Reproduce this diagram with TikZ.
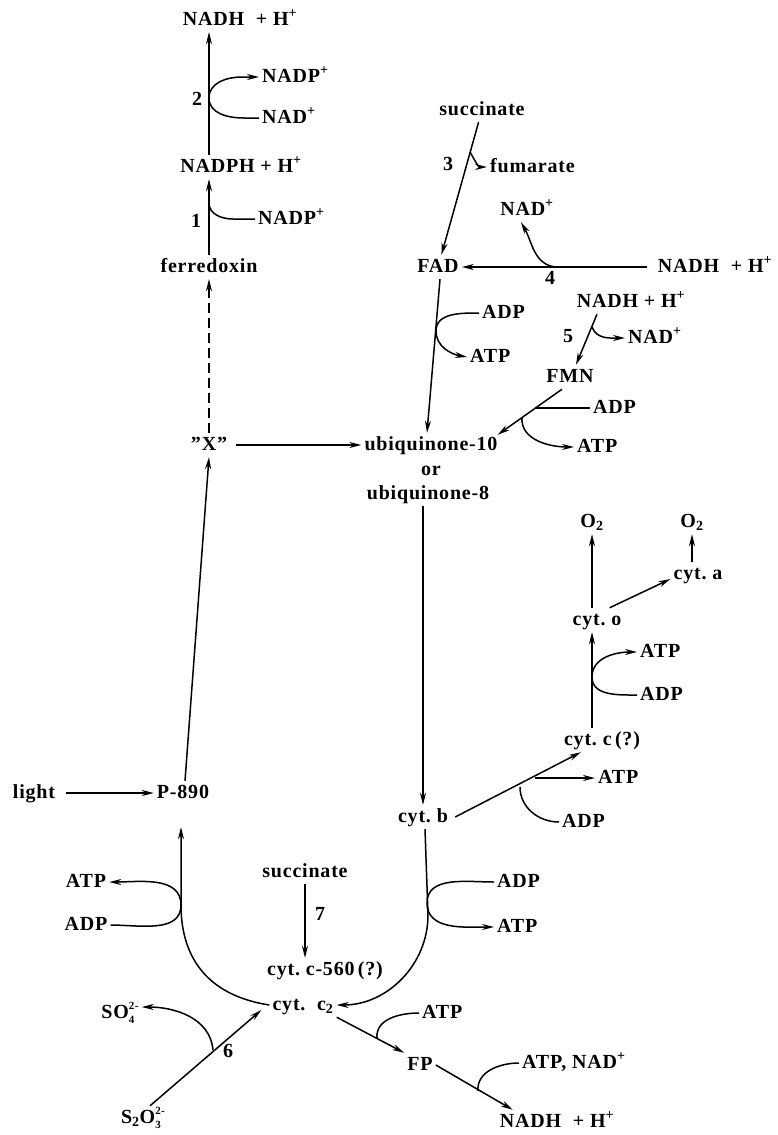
\documentclass[tikz,border=0pt]{standalone}
\usepackage{fontspec}
\setmainfont{Liberation Serif}[LetterSpace=4]
\usetikzlibrary{arrows.meta}
\newcommand\subsup[2]{\rlap{\raisebox{-5pt}{\fontsize{11}{11}\selectfont #1}}\raisebox{8.5pt}{\fontsize{11}{11}\selectfont #2}}
\begin{document}
\begin{tikzpicture}[x=1pt,y=-1pt,
  every node/.style={font=\fontsize{20}{22}\selectfont\bfseries, inner sep=3pt, text height=14pt, text depth=4pt},
  arr/.style={line width=1.5pt,-{Stealth[length=12pt,width=6pt]}},
  ln/.style={line width=1.5pt},
  dsh/.style={arr,dash pattern=on 10pt off 5pt}]
\useasboundingbox (0,0) rectangle (777,1135);
% ---------- nodes: left column
\node (nadhT) at (240,20) {NADH\ \ + H\textsuperscript{+}};
\node[anchor=west] (nadpB) at (259,77) {NADP\textsuperscript{+}};
\node[anchor=west] (nadB) at (259,118) {NAD\textsuperscript{+}};
\node (lb2) at (197,100) {2};
\node (nadph) at (241,167) {NADPH + H\textsuperscript{+}};
\node[anchor=west] (nadpA) at (255,219) {NADP\textsuperscript{+}};
\node (lb1) at (196,222) {1};
\node (ferr) at (209,267) {ferredoxin};
\node (X) at (209,445) {\char34X\char34};
\node (light) at (34,793) {light};
\node (p890) at (183,793) {P-890};
\node (atpL) at (86,882) {ATP};
\node (adpL) at (86,925) {ADP};
% ---------- upper right
\node (succT) at (482,110) {succinate};
\node (lb3) at (448,165) {3};
\node[anchor=west] (fum) at (487,167) {fumarate};
\node (fad) at (438,267) {FAD};
\node (nadhR) at (715,267) {NADH\ \ + H\textsuperscript{+}};
\node (lb4) at (550,279) {4};
\node (nadR) at (527,210) {NAD\textsuperscript{+}};
\node[anchor=west] (adpF) at (479,313) {ADP};
\node[anchor=west] (atpF) at (467,357) {ATP};
\node (nadhM) at (631,302) {NADH + H\textsuperscript{+}};
\node (lb5) at (568,337) {5};
\node[anchor=west] (nadM) at (625,338) {NAD\textsuperscript{+}};
\node (fmn) at (570,377) {FMN};
\node[anchor=west] (adpQ) at (590,408) {ADP};
\node[anchor=west] (atpQ) at (574,447) {ATP};
\node (ubq10) at (431,445) {ubiquinone-10};
\node (ubqor) at (431,470) {or};
\node (ubq8) at (428,494) {ubiquinone-8};
% ---------- right middle
\node (o2a) at (592,522) {O\textsubscript{2}};
\node (o2b) at (692,522) {O\textsubscript{2}};
\node (cyta) at (698,574) {cyt.\ a};
\node (cyto) at (597,620) {cyt.\ o};
\node[anchor=west] (atpo) at (637,652) {ATP};
\node[anchor=west] (adpo) at (637,695) {ADP};
\node (cytc) at (602,740) {cyt.\ c\,(?)};
\node[anchor=west] (atpb) at (595,778) {ATP};
\node[anchor=west] (adpb) at (559,822) {ADP};
\node (cytb) at (423,817) {cyt.\ b};
\node[anchor=west] (adpR) at (494,882) {ADP};
\node[anchor=west] (atpR) at (494,927) {ATP};
% ---------- bottom
\node (succB) at (305,872) {succinate};
\node (lb7) at (320,915) {7};
\node (c560) at (325,970) {cyt.\ c-560\,(?)};
\node (c2) at (303,1005) {cyt.\ \ c\textsubscript{2}};
\node (so4) at (120,1013) {SO\subsup{4}{2-}};
\node (s2o3) at (143,1118) {S\textsubscript{2}O\subsup{3}{2-}};
\node (lb6) at (228,1052) {6};
\node[anchor=west] (atpFP) at (419,1013) {ATP};
\node (fp) at (420,1065) {FP};
\node[anchor=west] (atpnad) at (519,1063) {ATP, NAD\textsuperscript{+}};
\node (nadhB) at (557,1122) {NADH\ \ + H\textsuperscript{+}};
% ---------- junction points
\coordinate (j1) at (209,203);
\coordinate (j2) at (209,98);
\coordinate (j3) at (470,152);
\coordinate (j4) at (556,267);
\coordinate (j5) at (436,331);
\coordinate (j6) at (592,327);
\coordinate (j7) at (535,408);
\coordinate (j8) at (522,417);
\coordinate (j9) at (535,778);
\coordinate (j10) at (520,787);
\coordinate (j12) at (592,677);
\coordinate (j13) at (428,915);
\coordinate (j14) at (427,903);
\coordinate (j15) at (181,905);
\coordinate (j17) at (213,1050);
\coordinate (j18) at (377,1038);
\coordinate (j19) at (478,1091);
% ---------- connectors: left column
\draw[arr] (ferr.north) -- (ferr.north |- nadph.south);
\draw[ln] (nadpA.west) -- ++(-22,0) to[out=180,in=-90] (j1);
\draw[arr] (nadph.north -| ferr) -- (nadhT.south -| ferr);
\draw[arr] (nadB.west) -- ++(-15,0) to[out=180,in=-90] (j2) to[out=90,in=180] ++(33,-21) -- (nadpB.west);
\draw[dsh] (X.north) -- (ferr.south);
\draw[arr] ([xshift=2pt]p890.north) -- (X.south);
\draw[arr,shorten <=8pt] (light.east) -- (p890.west);
\draw[arr,shorten <=6pt] (X.east) -- (ubq10.west);
% ---------- upper right
\draw[arr] (succT) -- (fad);
\draw[arr] (j3) to[out=-60,in=180] (fum.west);
\draw[arr,shorten <=8pt] (nadhR.west) -- (fad.east);
\draw[arr] (j4) to[out=175,in=-60] ([xshift=-6pt]nadR.south);
\draw[arr] ([xshift=2pt]fad.south) -- ([xshift=-4pt]ubq10.north);
\draw[arr] (adpF.west) to[out=180,in=90] (j5) to[out=-90,in=170] (atpF.west);
\draw[arr] ([xshift=-34pt]nadhM.south) -- ([xshift=6pt]fmn.north);
\draw[arr] (j6) to[out=-70,in=180] (nadM.west);
\draw[arr] ([xshift=-8pt]fmn.south) -- ([xshift=-3pt,yshift=-2pt]ubq10.north east);
\draw[ln] (adpQ.west) -- (j7);
\draw[arr] (j8) to[out=-95,in=180] (atpQ.west);
% ---------- right middle
\draw[arr] (ubq8.south -| cytb) -- (cytb.north);
\draw[arr] ([xshift=4pt]cytb.east) -- ([xshift=20pt]cytc.south west);
\draw[arr] (j9) -- (atpb.west);
\draw[ln] (adpb.west) to[out=180,in=-90] (j10);
\draw[arr] ([xshift=-10pt]cytc.north) -- ([xshift=-5pt]cyto.south);
\draw[arr] (j12) to[out=90,in=180] (atpo.west);
\draw[ln] (adpo.west) to[out=180,in=-90] (j12);
\draw[arr] ([xshift=-5pt]cyto.north) -- (o2a.south);
\draw[arr] ([xshift=-15pt]cyto.north east) -- ([yshift=-5pt]cyta.west);
\draw[arr] ([xshift=-6pt]cyta.north) -- (o2b.south);
% ---------- bottom
\draw[arr] ([xshift=2pt]cytb.south) -- (j13) to[out=-90,in=0] (c2.east);
\draw[arr] (adpR.west) to[out=180,in=90] (j14) to[out=-90,in=180] (atpR.west);
\draw[arr,shorten >=22pt] (c2.west) .. controls (205,995) and (181,955) .. (j15) -- (j15 |- p890.south);
\draw[arr] (adpL.east) to[out=0,in=-90] (j15) to[out=90,in=0] (atpL.east);
\draw[arr] (succB.south) -- (succB.south |- c560.north);
\draw[arr] ([xshift=7pt]s2o3.north) -- ([xshift=-8pt,yshift=-5pt]c2.west);
\draw[arr] (j17) to[out=95,in=0] ([yshift=6pt]so4.east);
\draw[arr] (c2.south east) -- (fp.north west);
\draw[ln] (atpFP.west) to[out=180,in=95] (j18);
\draw[arr] (fp.east) -- ([xshift=16pt]nadhB.north west);
\draw[ln] (atpnad.west) to[out=180,in=95] (j19);
\end{tikzpicture}
\end{document}
